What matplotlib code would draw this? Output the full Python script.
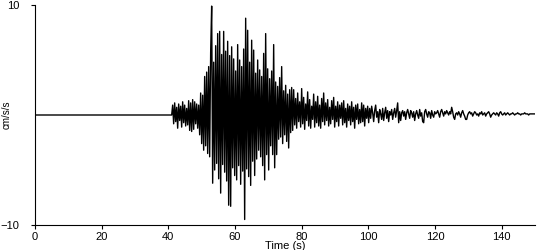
import numpy as np
import matplotlib
matplotlib.use("Agg")
import matplotlib.pyplot as plt

plt.rcParams["font.family"] = ["Liberation Sans", "DejaVu Sans"]

DT = 0.3
T_ONSET = 41.0    # first arrival; trace is flat before this

# digitised accelerogram (cm/s/s)
pre_event = [0.0, 0.9, -0.8, 1.1, -0.6, 0.7, -1.2, 1.0, -0.5, 0.8, -1.1, 1.2, -0.7, 0.9,
             -1.0, 0.6, -0.9, 1.3, -1.4, 1.1, -1.5, 1.4, -1.3, 1.2, -0.8, 1.0, -1.2, 0.9]
build_up = [-1.8, 2.0, -2.6, 1.8, -3.2, 3.5, -2.8, 3.9, -3.5, 4.4]
strong = [-3.8, 5.7, 9.9, -6.2, 4.8, -5.0, 6.3, -4.4, 7.4, -5.8, 7.6, -7.1, 5.5, -4.5,
          7.6, -5.2, 5.8, -6.0, 6.7, -8.2, 5.4, -8.3, 6.2, -4.8, 5.1, -5.5, 4.0, -5.9,
          6.4, -4.6, 5.0, -6.3, 4.4, -5.1, 6.0, -9.5, 8.8, -4.9, 7.7, -5.6, 4.8, -6.4]
decay = [6.8, -4.2, 5.9, -5.5, 3.8, -4.0, 5.0, -3.2, 4.1, -3.8, 3.5, -4.6, 5.6, -5.9,
         7.4, -3.6, 4.2, -5.0, 3.3, -2.8, 4.0, -3.6, 6.4, -4.8, 3.0, -3.6, 2.6, -2.2,
         3.4, -2.0, 4.4, -2.6, 2.2, -1.8, 2.7, -2.4, 1.9, -3.0, 2.3, -1.6, 2.5]
coda = [-1.4, 2.3, -0.9, 1.5, -1.2, 2.0, -0.6, 1.2, -1.1, 2.4,
        -0.8, 1.6, -1.3, 1.0, -0.5, 2.1, -1.0, 1.4, -1.2, 0.8,
        -0.4, 1.9, -1.1, 1.2, -0.7, 1.7, -1.0, 0.9, -1.2, 1.5,
        -0.6, 2.0, -0.9, 1.1, -0.5, 1.4, -1.0, 0.7, -0.8, 1.3,
        -0.4, 1.6, -1.1, 0.8, -0.6, 1.2, -1.0, 0.9, -0.3, 1.1,
        -0.9, 1.3, -0.7, 0.6, -1.1, 1.0, -0.5, 0.8, -0.9, 1.2,
        -0.6, 0.7, -1.2, 0.9, -0.4, 1.0, -0.8, 0.5, -0.7, 1.1,
        -0.6, 0.9, -1.0, 0.6, -0.3, 0.8, -0.7]
late_coda = [0.6, -0.3, 0.8, 0.2, -0.6, 0.4, 0.9, -0.2, 0.3, -0.7, 0.5, 0.1, -0.4, 0.6,
             -0.5, 0.2, 0.7, -0.3, 0.4, -0.6, 0.3, 0.0, 0.5, -0.4, 0.2, 0.6, -0.2, 0.4,
             1.1, -0.7, 0.3, -0.5, 0.2, 0.4, -0.1, 0.3, -0.4, 0.2, 0.5, 0.1, -0.3, 0.4,
             0.2, -0.2, 0.3, -0.5, 0.1, 0.4, 0.0, -0.3, 0.5, -0.1, 0.2, -0.6, -0.7, 0.3,
             0.5, 0.1, -0.2, 0.3, 0.2, -0.3, 0.4, 0.0, -0.2, 0.3, 0.1]
tail = [0.2, 0.4, 0.1, -0.2, 0.3, 0.5, 0.2, -0.1, 0.3, 0.1, 0.4, 0.2, 0.0, 0.3, 0.1,
        0.7, 0.3, -0.2, -0.4, 0.1, 0.2, 0.0, 0.3, 0.1, -0.2, 0.2, 0.4, 0.1, -0.1, -0.4,
        -0.4, 0.0, 0.2, 0.3, 0.1, 0.2, -0.1, 0.1, 0.3, 0.2, 0.0, 0.1, -0.1, 0.2, 0.1,
        0.3, 0.0, 0.1, 0.2, -0.1, 0.1, 0.2, 0.3, 0.1, -0.2, 0.0, 0.1, 0.2, 0.1, 0.0,
        0.2, 0.1, -0.1, 0.2, 0.3, 0.1, 0.0, 0.1, 0.2, 0.0, 0.1, 0.2, 0.1, 0.0, 0.1,
        0.1, 0.2, 0.1, 0.0, 0.1, 0.1, 0.2, 0.1, 0.1, 0.0, 0.1, 0.1, 0.1, 0.2, 0.1,
        0.1, 0.1, 0.0, 0.1, 0.1, 0.1, 0.1, 0.1, 0.1, 0.1]

x_ticks = [0, 20, 40, 60, 80, 100, 120, 140]
y_ticks = [-10, 10]

acc = np.array(pre_event + build_up + strong + decay + coda + late_coda + tail)
t = T_ONSET + DT * np.arange(len(acc))
# quiet record before the first arrival
t = np.concatenate([[0.0], t])
acc = np.concatenate([[0.0], acc])

fig = plt.figure(figsize=(5.5, 2.5), dpi=100)
ax = fig.add_axes([35 / 550, 1 - 225 / 250, 500 / 550, 220 / 250])
ax.plot(t, acc, color="black", lw=1.0)

ax.set_xlim(0, 150)
ax.set_ylim(-10, 10)
ax.set_xticks(x_ticks)
ax.set_yticks(y_ticks)
ax.tick_params(axis="both", direction="out", length=3, width=0.8, labelsize=8, pad=2)
ax.tick_params(axis="y", length=3, pad=8)
for side in ("top", "right"):
    ax.spines[side].set_visible(False)
for side in ("left", "bottom"):
    ax.spines[side].set_linewidth(0.8)

ax.set_xlabel("Time (s)", fontsize=8, labelpad=-1)
ax.set_ylabel("cm/s/s", fontsize=7)
ax.yaxis.set_label_coords(-0.046, 0.5)

fig.savefig("out.png", dpi=100)
